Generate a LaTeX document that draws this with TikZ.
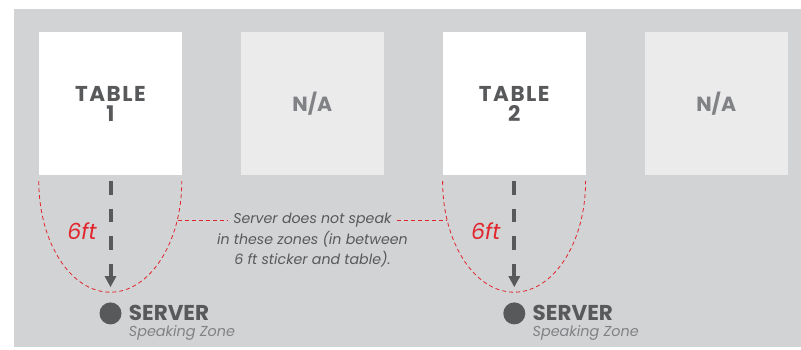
\documentclass[tikz,border=0pt]{standalone}
\usepackage{fontspec}
\setmainfont{Poppins}
\usetikzlibrary{arrows.meta,positioning}
\definecolor{floorgray}{HTML}{D1D3D4}
\definecolor{inkgray}{HTML}{58595B}
\definecolor{nagray}{HTML}{808285}
\definecolor{nafill}{HTML}{EBEBEB}
\definecolor{zonered}{HTML}{E1262D}
\tikzstyle{tablebox} = [fill=white,minimum size=143pt,inner sep=0,text=inkgray,align=center,font=\bfseries\fontsize{21.5}{20}\selectfont]
\tikzstyle{nabox} = [fill=nafill,minimum size=143pt,inner sep=0,text=nagray,font=\bfseries\fontsize{20.5}{20}\selectfont]
\tikzstyle{zone} = [draw=zonered,line width=0.8pt,dash pattern=on 4pt off 3pt]
\tikzstyle{walk} = [draw=inkgray,line width=4pt,dash pattern=on 13.5pt off 14pt,-{Triangle[width=11pt,length=11pt]}]
\tikzstyle{spot} = [circle,fill=inkgray,minimum size=22pt,inner sep=0]
\tikzstyle{feet} = [text=zonered,font=\itshape\fontsize{22}{22}\selectfont,inner sep=0]
\tikzstyle{who} = [text=inkgray,font=\bfseries\fontsize{21.5}{21.5}\selectfont,inner sep=0]
\tikzstyle{sub} = [text=nagray,font=\itshape\fontsize{14.4}{14.4}\selectfont,inner sep=0]
\tikzstyle{note} = [text=inkgray,font=\itshape\fontsize{14.2}{20}\selectfont,inner xsep=5pt,inner ysep=0,align=center]
\def \gap {6pt}
\def \rx {71.5pt}
\def \ry {111pt}
\newcommand{\tbl}{{\addfontfeatures{LetterSpace=7}TABLE}}

\begin{document}
\begin{tikzpicture}[x=1pt,y=1pt,node distance=58.5pt]
      \useasboundingbox (0,0) rectangle (801,-349);
      \fill[floorgray] (14,-9) rectangle (801,-347);
      \node[tablebox] (t1) at (110.5,-103.5) {\tbl\\1};
      \node[nabox,right=of t1] (n1) {N/A};
      \node[tablebox,right=of n1] (t2) {\tbl\\2};
      \node[nabox,right=of t2] (n2) {N/A};
      \foreach \i in {1,2}{
        \draw[zone] ([yshift=-\gap]t\i.south west) arc[start angle=180,end angle=360,x radius=\rx,y radius=\ry];
        \node[spot,below=127pt of t\i] (s\i) {};
        \draw[walk] ([yshift=-\gap]t\i.south) -- ([yshift=15pt]s\i.north);
        \node[feet] (f\i) at ([xshift=-28.5pt,yshift=-56pt]t\i.south) {6ft};
        \node[who,right=7pt of s\i] (w\i) {SERVER};
        \node[sub,anchor=north west] (z\i) at ([yshift=-4pt]w\i.south west) {Speaking Zone};
      }
      \coordinate (u1) at ([xshift=-4.6pt,yshift=-45pt]t1.south east);
      \coordinate (u2) at ([xshift=4.6pt,yshift=-45pt]t2.south west);
      \node[note] (q1) at (u1 -| n1) {Server does not speak};
      \node[note,below=4pt of q1] (q2) {in these zones (in between\\6 ft sticker and table).};
      \draw[zone] (u1) -- (q1);
      \draw[zone] (q1) -- (u2);
    \end{tikzpicture}
\end{document}
